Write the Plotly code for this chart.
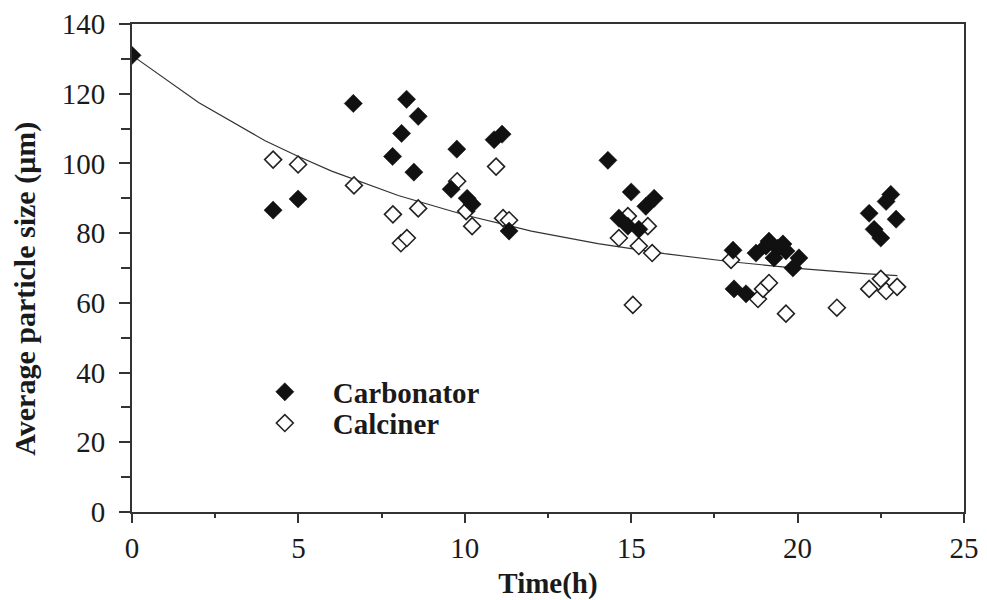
import plotly.graph_objects as go

# Carbonator samples: time (h) and average particle size (um)
carb_t = [0, 4.24, 4.99, 6.65, 7.83, 8.1, 8.25, 8.6, 8.47, 9.59, 9.76, 10.07, 10.22,
          10.88, 11.12, 11.33, 14.3, 14.63, 14.9, 15.0, 15.23, 15.44, 15.69,
          18.06, 18.09, 18.45, 18.75, 19.05, 19.14, 19.41, 19.56, 19.65, 19.29,
          20.04, 19.86, 22.15, 22.8, 22.66, 22.3, 22.5, 22.96]
carb_d = [131, 86.6, 89.8, 117.2, 102, 108.6, 118.4, 113.5, 97.5, 92.6, 104.1, 90, 88.3,
          106.8, 108.4, 80.6, 100.9, 84.3, 82, 91.8, 81.1, 87.7, 90,
          75.1, 64, 62.6, 74.3, 76.3, 77.7, 75.7, 76.9, 74.9, 72.9,
          72.9, 70, 85.7, 91.1, 89.1, 81.1, 78.6, 84]

# Calciner samples
calc_t = [4.24, 4.99, 6.67, 7.84, 8.08, 8.26, 8.6, 9.77, 10.04, 10.22, 10.94, 11.15,
          11.33, 14.63, 14.9, 15.05, 15.23, 15.5, 15.63, 18.0, 18.81, 18.96, 19.14,
          19.65, 21.18, 22.15, 22.5, 22.66, 22.99]
calc_d = [101.1, 99.7, 93.7, 85.4, 77.1, 78.6, 87.1, 94.9, 86.3, 82, 99.1, 84.3,
          83.7, 78.6, 84.9, 59.4, 76.3, 82, 74.3, 72.3, 61.1, 64, 65.7,
          56.9, 58.6, 64, 66.9, 63.4, 64.6]

# Trend line through the data
trend_t = [0, 2, 4, 5, 6, 8, 10, 12, 14, 15, 16, 18, 20, 22, 23]
trend_d = [131, 117.5, 106.5, 102, 97.8, 90.8, 85.2, 80.6, 77, 75.5, 74.1, 71.8, 69.9, 68.4, 67.8]

FONT = "Liberation Serif"
INK = "#1a1a1a"
LINE = "#333333"

fig = go.Figure()

fig.add_trace(go.Scatter(
    x=trend_t, y=trend_d, mode="lines", showlegend=False,
    line=dict(color=LINE, width=1.2), hoverinfo="skip"))

fig.add_trace(go.Scatter(
    x=calc_t, y=calc_d, mode="markers", name="Calciner", legend="legend2",
    marker=dict(symbol="diamond", size=13, color="white",
                line=dict(color="#222222", width=1.6))))

fig.add_trace(go.Scatter(
    x=carb_t, y=carb_d, mode="markers", name="Carbonator", legend="legend",
    marker=dict(symbol="diamond", size=14, color="#111111",
                line=dict(color="#111111", width=0.5))))

axis_common = dict(
    showline=True, linecolor=LINE, linewidth=2, mirror=True,
    showgrid=False, zeroline=False, ticks="outside",
    tickwidth=1.5, tickcolor=LINE, automargin=False,
    tickfont=dict(family=FONT, size=29, color=INK),
)

fig.update_xaxes(
    range=[0, 25], dtick=5, tick0=0, ticklen=9,
    minor=dict(dtick=2.5, ticks="outside", ticklen=4, tickwidth=1.5, tickcolor=LINE),
    title=dict(text="<b>Time(h)</b>", font=dict(family=FONT, size=29, color=INK), standoff=14),
    **axis_common)

fig.update_yaxes(
    range=[0, 140], dtick=20, tick0=0, ticklen=11, ticklabelstandoff=8,
    minor=dict(dtick=10, ticks="outside", ticklen=9, tickwidth=1.5, tickcolor=LINE),
    **axis_common)

# y-axis title, placed as a rotated annotation
fig.add_annotation(
    text="<b>Average particle size (μm)</b>", textangle=-90,
    xref="paper", yref="paper", x=-0.129, y=0.457,
    xanchor="center", yanchor="middle", showarrow=False,
    font=dict(family=FONT, size=30, color=INK))

legend_style = dict(
    xanchor="left", yanchor="middle", bgcolor="rgba(0,0,0,0)",
    font=dict(family=FONT, size=29, color=INK, weight="bold"),
    itemwidth=86,
)

fig.update_layout(
    width=987, height=600,
    margin=dict(l=132, r=23, t=24, b=88),
    paper_bgcolor="white", plot_bgcolor="white",
    showlegend=True,
    legend=dict(x=0.126, y=0.246, **legend_style),
    legend2=dict(x=0.126, y=0.182, **legend_style),
)

fig.write_html("out.html")
